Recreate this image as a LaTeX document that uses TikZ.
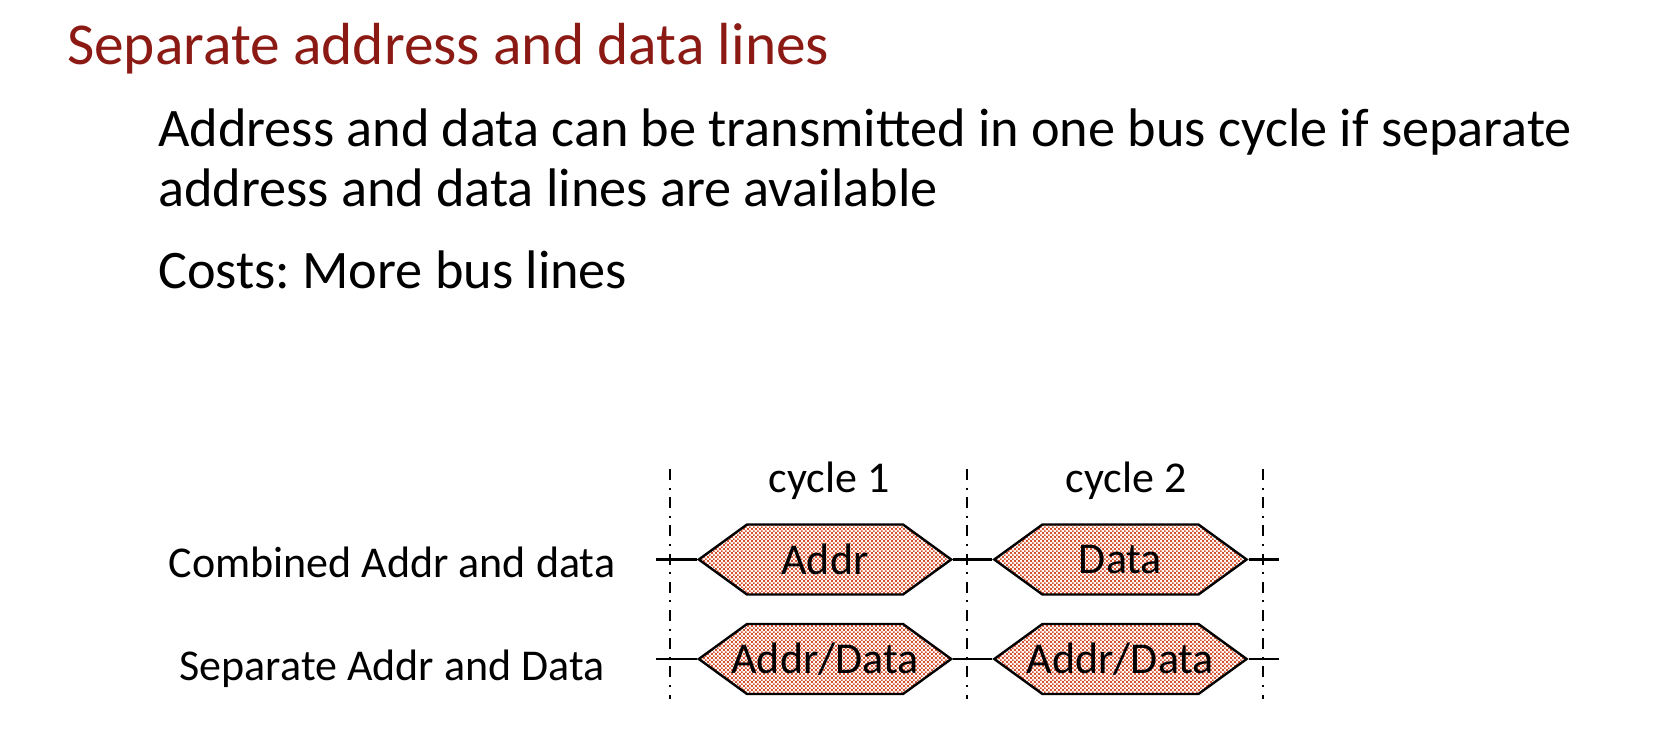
\documentclass[tikz,border=0pt]{standalone}
\usepackage{fontspec}
\setmainfont{Carlito}
\usetikzlibrary{shapes.symbols}
\usetikzlibrary{patterns}
\usetikzlibrary{positioning}

\definecolor{titlered}{RGB}{140,26,20}
\definecolor{dotred}{RGB}{212,82,45}

\pgfdeclarepatternformonly{busdots}{\pgfpointorigin}{\pgfqpoint{2.2pt}{2.2pt}}{\pgfqpoint{2.2pt}{2.2pt}}{
  \pgfpathrectangle{\pgfqpoint{0.05pt}{0.05pt}}{\pgfqpoint{0.95pt}{0.95pt}}
  \pgfpathrectangle{\pgfqpoint{1.15pt}{1.15pt}}{\pgfqpoint{0.95pt}{0.95pt}}
  \pgfusepath{fill}
}
\newcommand{\hexlbl}[1]{\makebox[78pt]{#1}}
\frenchspacing

\begin{document}
\begin{tikzpicture}
        [x=0.5pt, y=-0.5pt, node distance=19.5pt,
         busval/.style={signal, signal to=west and east, signal pointer angle=72,
           draw, line width=1.2pt, preaction={fill=dotred!5}, pattern=busdots, pattern color=dotred,
           minimum height=35pt, inner xsep=0pt, inner ysep=0pt,
           font=\fontsize{22}{26}\selectfont},
         rowlbl/.style={anchor=base, font=\fontsize{22}{26}\selectfont},
         txtline/.style={anchor=base west, font=\fontsize{27.15}{33}\selectfont},
         sepline/.style={line width=1pt, dash pattern=on 5.5pt off 3.8pt on 1pt off 3.8pt}]
        \useasboundingbox (0,0) rectangle (1660,738);
        \node (title) [anchor=base west, text=titlered, font=\fontsize{29.7}{36}\selectfont] at (60,65) {Separate address and data lines};
        \node (ln1) [txtline] at (151,147) {Address and data can be transmitted in one bus cycle if separate};
        \node (ln2) [txtline] at (151,206) {address and data lines are available};
        \node (ln3) [txtline] at (151,288) {Costs: More bus lines};
        % bus values
        \node (combA) [busval] at (825,559.5) {\hexlbl{Addr}};
        \node (combB) [busval, right=of combA] {\hexlbl{Data}};
        \node (sepA) [busval] at (825,659) {\hexlbl{Addr/Data}};
        \node (sepB) [busval, right=of sepA] {\hexlbl{Addr/Data}};
        \node (combL) [rowlbl] at (392,577) {Combined Addr and data};
        \node (sepL) [rowlbl] at (392,680) {Separate Addr and Data};
        \node (cyc1) [rowlbl] at (829,492) {cycle 1};
        \node (cyc2) [rowlbl] at (1126,492) {cycle 2};
        \coordinate (combIn) at (656,559.5);
        \coordinate (combOut) at (1279,559.5);
        \coordinate (sepIn) at (656,659);
        \coordinate (sepOut) at (1279,659);
        \draw [line width=1.2pt] (combIn) -- (combA.west) (combA.east) -- (combB.west) (combB.east) -- (combOut);
        \draw [line width=1.2pt] (sepIn) -- (sepA.west) (sepA.east) -- (sepB.west) (sepB.east) -- (sepOut);
        % cycle boundaries
        \foreach \x [count=\i] in {670,967,1263} {
            \coordinate (top\i) at (\x,469);
            \coordinate (bot\i) at (\x,699);
            \draw [sepline] (top\i) -- (bot\i);
        }
    \end{tikzpicture}
\end{document}
